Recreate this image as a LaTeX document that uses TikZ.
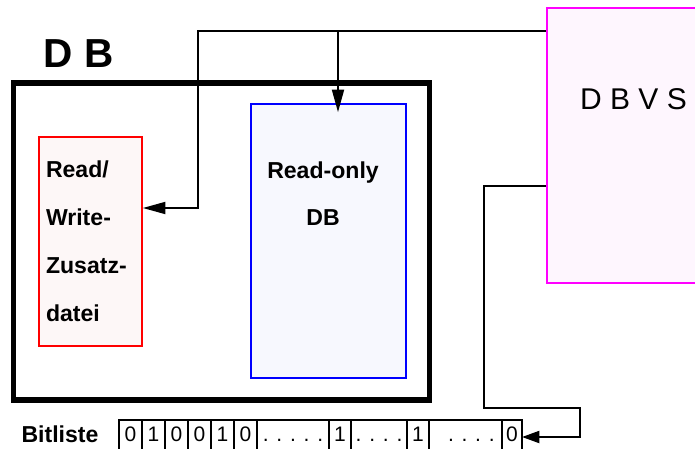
\documentclass[tikz,border=0pt]{standalone}
\usepackage{fontspec}
\setmainfont{Liberation Sans}
\usepackage{xcolor}
\usetikzlibrary{arrows.meta,positioning}
\definecolor{rwred}{HTML}{FF0000}
\definecolor{rwfill}{HTML}{FDF7F7}
\definecolor{roblue}{HTML}{0000FF}
\definecolor{rofill}{HTML}{F7F8FE}
\definecolor{dbvsmag}{HTML}{FF00FF}
\definecolor{dbvsfill}{HTML}{FEF6FE}

\begin{document}
\begin{tikzpicture}[
    x=0.75pt, y=-0.75pt,
    frame/.style={rectangle, draw=black, line width=4pt, minimum width=312pt, minimum height=237.75pt},
    rwbox/.style={rectangle, draw=rwred, fill=rwfill, line width=1.2pt, font=\fontsize{17.3}{36}\selectfont\bfseries},
    robox/.style={rectangle, draw=roblue, fill=rofill, line width=1.2pt},
    dbvsbox/.style={rectangle, draw=dbvsmag, fill=dbvsfill, line width=1.2pt},
    cell/.style={rectangle, draw=black, line width=1.1pt, outer sep=0pt, inner sep=0pt, minimum height=25.5pt, text height=11.25pt, text depth=4.5pt, font=\fontsize{15.75}{18}\selectfont},
    conn/.style={draw=black, line width=1.5pt},
    arr/.style={conn, -{Triangle[length=17pt,width=9pt]}}
]
\useasboundingbox (0,0) rectangle (695,449);

\node[frame] (db) at (221.5,241.5) {};
\node[font=\fontsize{30.4}{32}\selectfont\bfseries] (dbtitle) at (78.5,54) {D B};

\node[rwbox, minimum width=77.25pt, minimum height=156.75pt, text width=66.75pt, inner xsep=5.25pt, align=left] (rw) at (90.5,241.5) {Read/\\Write-\\Zusatz-\\datei};

\node[robox, minimum width=116.25pt, minimum height=205.5pt] (ro) at (328.5,241) {};
\node[font=\fontsize{17.3}{35.25}\selectfont\bfseries, align=center, inner sep=0pt] (rotext) at (323,193.5) {Read-only\\DB};

\node[dbvsbox, minimum width=129.75pt, minimum height=206.25pt] (dbvs) at (633.5,145.5) {};
\node[font=\fontsize{22.5}{24}\selectfont, inner sep=0pt] (dbvstext) at (633.5,99) {D B V S};

\node[font=\fontsize{17.3}{18}\selectfont\bfseries, anchor=base] (bitlabel) at (60,442) {Bitliste};
\node[cell, minimum width=17.25pt, anchor=north west] (b1) at (119,420) {0};
\node[cell, minimum width=17.25pt, right=0pt of b1] (b2) {1};
\node[cell, minimum width=17.25pt, right=0pt of b2] (b3) {0};
\node[cell, minimum width=17.25pt, right=0pt of b3] (b4) {0};
\node[cell, minimum width=17.25pt, right=0pt of b4] (b5) {1};
\node[cell, minimum width=17.25pt, right=0pt of b5] (b6) {0};
\node[cell, minimum width=54pt, right=0pt of b6] (b7) {. . . . .};
\node[cell, minimum width=16.5pt, right=0pt of b7] (b8) {1};
\node[cell, minimum width=42pt, right=0pt of b8] (b9) {. . . .};
\node[cell, minimum width=16.5pt, right=0pt of b9] (b10) {1};
\node[cell, minimum width=54.75pt, right=0pt of b10] (b11) {\phantom{.}\ . . . .};
\node[cell, minimum width=15pt, right=0pt of b11] (b12) {0};

\coordinate (upl) at (198,31);
\coordinate (upr) at (338,31);
\coordinate (lowl) at (484,408);
\coordinate (lowr) at (580,437);

\draw[arr] (dbvs.west |- upl) -| (upl |- 0,208) -- (rw.east |- 0,208);
\draw[arr, shorten >=-6.75pt] (upr) -- (upr |- ro.north);
\draw[arr, -{Triangle[length=13pt,width=9pt]}] (dbvs.west |- 0,185.5) -| (lowl) -| (lowr) -- (b12.east);
\end{tikzpicture}
\end{document}
